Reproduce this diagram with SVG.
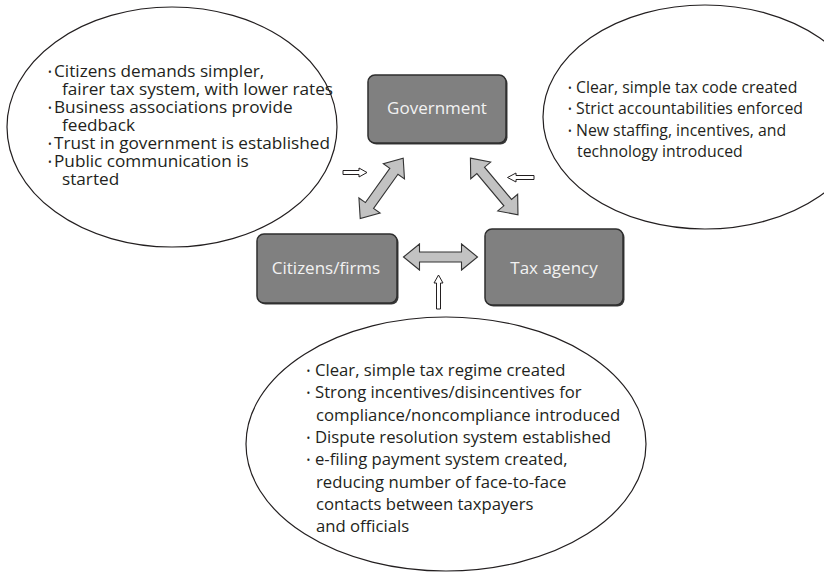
<svg xmlns="http://www.w3.org/2000/svg" width="824" height="573" viewBox="0 0 824 573">
<style>
.ell{fill:#ffffff;stroke:#231f20;stroke-width:1.2}
.box{fill:#808080;stroke:#2e2e2e;stroke-width:1.5}
.shadow{fill:#3a3a3a}
.lbl{font-family:"Open Sans","Noto Sans",sans-serif;font-size:17px;fill:#f2f2f2;text-anchor:middle}
.t{font-family:"Open Sans","Noto Sans",sans-serif;fill:#231f20}
.b{font-family:"Open Sans","Noto Sans",sans-serif;font-size:10px;fill:#231f20;text-anchor:middle}
.dbl{fill:#c2c2c2;stroke:#333333;stroke-width:1.1;stroke-linejoin:miter}
.hol{fill:#ffffff;stroke:#231f20;stroke-width:1}
</style>
<defs>
<polygon id="dblarrow" points="-37,0 -21,-13 -21,-5 21,-5 21,-13 37,0 21,13 21,5 -21,5 -21,13"/>
</defs>

<g id="note-left">
<ellipse class="ell" cx="172" cy="127" rx="165" ry="120"/>
<g class="t" font-size="17.2">
<text class="b" x="50" y="76">•</text><text x="54" y="77">Citizens demands simpler,</text>
<text x="62" y="95">fairer tax system, with lower rates</text>
<text class="b" x="50" y="112">•</text><text x="54" y="113">Business associations provide</text>
<text x="62" y="131">feedback</text>
<text class="b" x="50" y="148">•</text><text x="54" y="149">Trust in government is established</text>
<text class="b" x="50" y="166">•</text><text x="54" y="167">Public communication is</text>
<text x="62" y="185">started</text>
</g>
</g>

<g id="note-right">
<ellipse class="ell" cx="705" cy="117" rx="162" ry="112"/>
<g class="t" font-size="15.8">
<text class="b" x="570" y="91.5">•</text><text x="576" y="92.5">Clear, simple tax code created</text>
<text class="b" x="570" y="113">•</text><text x="576" y="114">Strict accountabilities enforced</text>
<text class="b" x="570" y="134.5">•</text><text x="576" y="135.5">New staffing, incentives, and</text>
<text x="577" y="157">technology introduced</text>
</g>
</g>

<g id="note-bottom">
<ellipse class="ell" cx="446" cy="444" rx="200" ry="127"/>
<g class="t" font-size="16.7">
<text class="b" x="308.5" y="375">•</text><text x="315" y="376">Clear, simple tax regime created</text>
<text class="b" x="308.5" y="397.3">•</text><text x="315" y="398.3">Strong incentives/disincentives for</text>
<text x="316" y="420.6">compliance/noncompliance introduced</text>
<text class="b" x="308.5" y="441.9">•</text><text x="315" y="442.9">Dispute resolution system established</text>
<text class="b" x="308.5" y="464.2">•</text><text x="315" y="465.2">e-filing payment system created,</text>
<text x="316" y="487.5">reducing number of face-to-face</text>
<text x="316" y="509.8">contacts between taxpayers</text>
<text x="316" y="532.1">and officials</text>
</g>
</g>

<g id="government">
<rect class="shadow" x="369.5" y="76.5" width="138" height="68" rx="7"/>
<rect class="box" x="368" y="75" width="138" height="68" rx="7"/>
<text class="lbl" x="437" y="114">Government</text>
</g>

<g id="citizens-firms">
<rect class="shadow" x="258.5" y="235.5" width="140" height="69" rx="7"/>
<rect class="box" x="257" y="234" width="140" height="69" rx="7"/>
<text class="lbl" x="326" y="273.5">Citizens/firms</text>
</g>

<g id="tax-agency">
<rect class="shadow" x="486.5" y="230.5" width="138" height="76" rx="7"/>
<rect class="box" x="485" y="229" width="138" height="76" rx="7"/>
<text class="lbl" x="554" y="273.5">Tax agency</text>
</g>

<g id="connectors">
<use href="#dblarrow" class="dbl" transform="translate(440.5,257)"/>
<use href="#dblarrow" class="dbl" transform="translate(381.7,188.4) rotate(-54.5)"/>
<use href="#dblarrow" class="dbl" transform="translate(494.2,186.5) rotate(50)"/>
<polygon class="hol" points="343,170.5 359,170.5 359,168 367,172.5 359,177 359,174.5 343,174.5"/>
<polygon class="hol" points="534,175.5 516,175.5 516,173 507.5,177.5 516,182 516,179.5 534,179.5"/>
<polygon class="hol" points="436.5,309 436.5,283 434,283 438.5,275 443,283 440.5,283 440.5,309"/>
</g>
</svg>
